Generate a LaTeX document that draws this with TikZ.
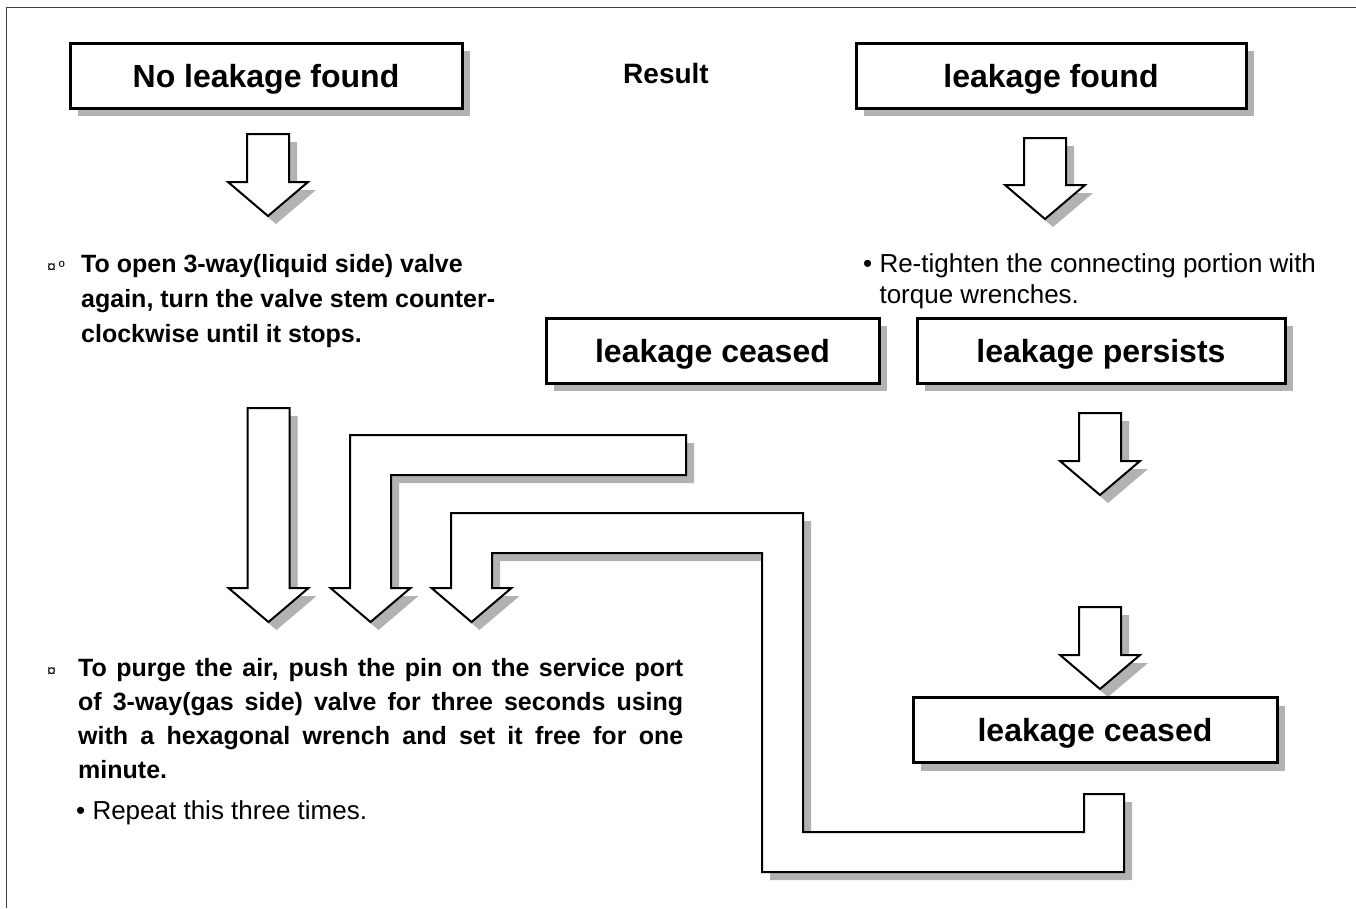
\documentclass[tikz,border=0pt]{standalone}
\usepackage{fontspec}
\setmainfont{Liberation Sans}
\usetikzlibrary{shadows}

% straight block arrow: centre x, top of shaft, line of the head
\newcommand{\downblock}[3]{%
  \draw[fatarrow] (#1-21,#2) -- (#1+21,#2) -- (#1+21,#3) -- (#1+40,#3)
    -- (#1,#3+34) -- (#1-40,#3) -- (#1-21,#3) -- cycle;}

\begin{document}
\begin{tikzpicture}[
    x=1pt, y=-1pt,
    grayshadow/.style={drop shadow={shadow xshift=8pt,shadow yshift=-8pt,
        fill=black!30,opacity=1}},
    resultbox/.style={draw,line width=3pt,fill=white,inner sep=0pt,
        minimum height=65pt,text height=23pt,text depth=0pt,grayshadow,
        font=\fontsize{32}{38}\selectfont\bfseries},
    fatarrow/.style={draw,line width=2pt,fill=white,grayshadow},
    steptext/.style={inner sep=0pt,align=left,
        font=\fontsize{25}{35}\selectfont\bfseries},
    notetext/.style={inner sep=0pt,align=left,
        font=\fontsize{26}{31}\selectfont},
    marktext/.style={inner sep=0pt,font=\fontsize{16}{16}\selectfont},
  ]
  \useasboundingbox (0,0) rectangle (1356,908);
  \draw[black!75,line width=1pt] (6,908) -- (6,7) -- (1356,7);

  % Results
  \node[resultbox,minimum width=392pt] (nofound) at (266,75.5) {No leakage found};
  \node[inner sep=0pt,font=\fontsize{28}{30}\selectfont\bfseries] (result) at (666,73) {Result};
  \node[resultbox,minimum width=390pt] (found) at (1051,75.5) {leakage found};

  % No leakage side
  \downblock{268}{134}{182}
  \node[marktext,anchor=base west] (openmark) at (47,272) {¤\,º};
  \node[steptext,anchor=north west] (openstep) at (81,254)
    {To open 3-way(liquid side) valve\\
     again, turn the valve stem counter-\\
     clockwise until it stops.};

  % Leakage side
  \downblock{1045}{138}{185}
  \node[notetext,anchor=north west] (retighten) at (863,253)
    {• Re-tighten the connecting portion with\\
     \hphantom{•\ }torque wrenches.};
  \node[resultbox,minimum width=333pt] (ceased) at (712.5,350.5) {leakage ceased};
  \node[resultbox,minimum width=368pt] (persists) at (1101,350.5) {leakage persists};
  \downblock{1100}{413}{461}
  \downblock{1100}{607}{655}
  \node[resultbox,minimum width=364pt] (ceasedlate) at (1095,730) {leakage ceased};

  % Arrows to the purge step
  \downblock{268.5}{408}{588}
  \draw[fatarrow] (350,588) -- (350,435) -- (686,435) -- (686,475) -- (391,475)
    -- (391,588) -- (410.5,588) -- (370.5,622) -- (330.5,588) -- cycle;
  \draw[fatarrow] (451,588) -- (451,513) -- (803,513) -- (803,832) -- (1084,832)
    -- (1084,794) -- (1124,794) -- (1124,872) -- (762,872) -- (762,553)
    -- (492,553) -- (492,588) -- (511.5,588) -- (471.5,622) -- (431.5,588) -- cycle;

  % Purge step
  \node[marktext,anchor=base west] (purgemark) at (47,676) {¤};
  \node[steptext,anchor=north west,text width=605pt,align=justify,
        font=\fontsize{25}{34}\selectfont\bfseries] (purgestep) at (78,658)
    {To purge the air, push the pin on the service port\linebreak
     of 3-way(gas side) valve for three seconds using\linebreak
     with a hexagonal wrench and set it free for one\linebreak
     minute.};
  \node[notetext,anchor=north west] (repeat) at (76,800) {• Repeat this three times.};
\end{tikzpicture}
\end{document}
